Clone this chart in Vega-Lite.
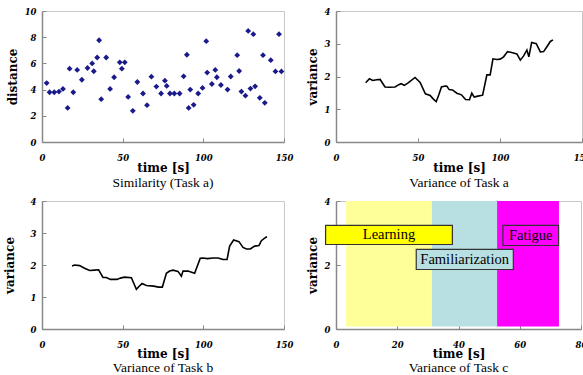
{
  "$schema": "https://vega.github.io/schema/vega-lite/v6.json",
  "background": "white",
  "padding": {"left": 2, "top": 6, "right": 0, "bottom": 0},
  "columns": 2,
  "bounds": "flush",
  "align": "each",
  "spacing": {"row": 59, "column": 52},
  "config": {
    "view": {"stroke": "#c8c8c8", "strokeWidth": 1},
    "axis": {
      "domainColor": "#888888", "domainWidth": 1.5, "tickColor": "#888888", "tickSize": -4,
      "grid": false, "labelFont": "DejaVu Serif", "labelFontWeight": "bold", "labelFontStyle": "italic",
      "labelFontSize": 8.5, "labelColor": "#000000", "titleFont": "DejaVu Serif", "titleFontWeight": "bold",
      "titleFontSize": 12, "titleColor": "#000000"
    },
    "axisX": {"labelPadding": 15, "titlePadding": 1, "labelFlush": false},
    "axisY": {"labelPadding": 10, "titlePadding": 5},
    "title": {"font": "Liberation Serif", "fontSize": 13.5, "fontWeight": "normal", "color": "#000000", "orient": "bottom", "offset": 2}
  },
  "concat": [
    {
      "width": 242, "height": 131,
      "title": "Similarity (Task a)",
      "data": {"values": [
        {"t":2.9,"d":4.5},{"t":4.7,"d":3.8},{"t":7.6,"d":3.8},{"t":10.5,"d":3.85},{"t":13,"d":4.05},
        {"t":15.9,"d":2.6},{"t":17.1,"d":5.6},{"t":19.4,"d":3.8},{"t":21.8,"d":5.5},{"t":24.7,"d":4.75},
        {"t":28.2,"d":5.65},{"t":31.1,"d":6.0},{"t":32.1,"d":5.4},{"t":34.2,"d":6.45},{"t":35.4,"d":7.77},
        {"t":36.7,"d":3.27},{"t":39.8,"d":6.45},{"t":42.2,"d":4.05},{"t":44.7,"d":4.94},{"t":48.2,"d":6.08},
        {"t":49.5,"d":5.6},{"t":51.3,"d":6.08},{"t":53.4,"d":3.44},{"t":56.3,"d":2.38},{"t":59.1,"d":4.58},
        {"t":62.6,"d":3.7},{"t":65.1,"d":2.81},{"t":67.8,"d":4.99},{"t":70.9,"d":4.23},{"t":73.8,"d":3.7},
        {"t":76.2,"d":4.68},{"t":77.3,"d":4.28},{"t":79.3,"d":3.7},{"t":82,"d":3.7},{"t":85.3,"d":3.7},
        {"t":87.8,"d":5.01},{"t":89.8,"d":6.66},{"t":90.9,"d":2.6},{"t":91.9,"d":4.0},{"t":94,"d":2.84},
        {"t":96.8,"d":3.7},{"t":99.5,"d":4.13},{"t":101.8,"d":7.7},{"t":102.4,"d":5.3},{"t":105.3,"d":4.43},
        {"t":107.4,"d":5.5},{"t":108.4,"d":4.94},{"t":110.9,"d":4.35},{"t":115,"d":4.0},{"t":117,"d":5.0},
        {"t":121,"d":6.63},{"t":122.2,"d":5.42},{"t":123.6,"d":3.85},{"t":126.1,"d":3.54},{"t":127.8,"d":8.48},
        {"t":129.2,"d":4.08},{"t":131,"d":8.23},{"t":132.1,"d":4.25},{"t":135,"d":3.37},{"t":137,"d":6.63},
        {"t":138.1,"d":2.99},{"t":141.8,"d":6.25},{"t":144.7,"d":5.39},{"t":146.9,"d":8.23},{"t":148.4,"d":5.39}
      ]},
      "mark": {"type": "point", "shape": "diamond", "filled": true, "size": 34, "color": "#1a1a8c", "opacity": 1},
      "encoding": {
        "x": {"field": "t", "type": "quantitative", "scale": {"domain": [0, 150], "nice": false}, "axis": {"title": "time [s]", "values": [0, 50, 100, 150]}},
        "y": {"field": "d", "type": "quantitative", "scale": {"domain": [0, 10], "nice": false}, "axis": {"title": "distance", "values": [0, 2, 4, 6, 8, 10], "titlePadding": 5}}
      }
    },
    {
      "width": 246, "height": 131,
      "title": "Variance of Task a",
      "data": {"values": [
        {"t":18.1,"v":1.81},{"t":20.4,"v":1.93},{"t":22.4,"v":1.88},{"t":24.8,"v":1.9},{"t":26.9,"v":1.91},
        {"t":29.9,"v":1.68},{"t":32.6,"v":1.67},{"t":36,"v":1.68},{"t":38.3,"v":1.75},{"t":39.7,"v":1.78},
        {"t":41.7,"v":1.73},{"t":44.2,"v":1.81},{"t":48.2,"v":1.97},{"t":51.3,"v":1.82},{"t":54.5,"v":1.47},
        {"t":57.4,"v":1.42},{"t":59.4,"v":1.31},{"t":61.1,"v":1.23},{"t":62.7,"v":1.44},{"t":64.3,"v":1.68},
        {"t":66.6,"v":1.71},{"t":67.6,"v":1.7},{"t":69,"v":1.6},{"t":71,"v":1.59},{"t":73.7,"v":1.49},
        {"t":76.5,"v":1.44},{"t":79,"v":1.3},{"t":81.4,"v":1.29},{"t":82.8,"v":1.49},{"t":84.3,"v":1.37},
        {"t":86.5,"v":1.4},{"t":89.4,"v":1.43},{"t":92,"v":2.05},{"t":94,"v":2.05},{"t":95.7,"v":2.54},
        {"t":98.1,"v":2.52},{"t":100.1,"v":2.53},{"t":102.2,"v":2.6},{"t":104.6,"v":2.76},{"t":107.1,"v":2.73},
        {"t":110.3,"v":2.69},{"t":112.4,"v":2.5},{"t":114.4,"v":2.63},{"t":116.4,"v":2.81},{"t":117.6,"v":2.6},
        {"t":119.3,"v":3.04},{"t":122.1,"v":3.0},{"t":124.6,"v":2.75},{"t":126.6,"v":2.76},{"t":128.6,"v":2.91},
        {"t":130.7,"v":3.07},{"t":132.3,"v":3.12}
      ]},
      "mark": {"type": "line", "color": "#000000", "strokeWidth": 1.6},
      "encoding": {
        "x": {"field": "t", "type": "quantitative", "scale": {"domain": [0, 150], "nice": false}, "axis": {"title": "time [s]", "values": [0, 50, 100, 150]}},
        "y": {"field": "v", "type": "quantitative", "scale": {"domain": [0, 4], "nice": false}, "axis": {"title": "variance", "values": [0, 1, 2, 3, 4], "titlePadding": 5}}
      }
    },
    {
      "width": 242, "height": 128,
      "title": {"text": "Variance of Task b", "offset": 1},
      "data": {"values": [
        {"t":18.6,"v":1.97},{"t":20.2,"v":2.0},{"t":23.3,"v":1.98},{"t":26.4,"v":1.9},{"t":29.5,"v":1.83},
        {"t":32.6,"v":1.84},{"t":35.1,"v":1.85},{"t":37.8,"v":1.61},{"t":39.9,"v":1.61},{"t":42.4,"v":1.55},
        {"t":46.5,"v":1.55},{"t":48.6,"v":1.59},{"t":51,"v":1.62},{"t":55.4,"v":1.6},{"t":58.5,"v":1.24},
        {"t":60.1,"v":1.33},{"t":62,"v":1.42},{"t":64.7,"v":1.36},{"t":69.2,"v":1.34},{"t":72.3,"v":1.31},
        {"t":74.6,"v":1.31},{"t":77.1,"v":1.74},{"t":79.1,"v":1.81},{"t":81.2,"v":1.84},{"t":84.3,"v":1.8},
        {"t":86.4,"v":1.65},{"t":87.4,"v":1.81},{"t":90.5,"v":1.81},{"t":94.6,"v":1.74},{"t":98.1,"v":2.21},
        {"t":99.8,"v":2.22},{"t":102.5,"v":2.2},{"t":106,"v":2.22},{"t":109.1,"v":2.22},{"t":112.2,"v":2.17},
        {"t":114.7,"v":2.17},{"t":116.3,"v":2.59},{"t":118.8,"v":2.78},{"t":122.1,"v":2.73},{"t":124.6,"v":2.55},
        {"t":126.7,"v":2.5},{"t":129.1,"v":2.5},{"t":131.8,"v":2.59},{"t":134.5,"v":2.61},{"t":136,"v":2.76},
        {"t":138.6,"v":2.86},{"t":139.5,"v":2.88}
      ]},
      "mark": {"type": "line", "color": "#000000", "strokeWidth": 1.6},
      "encoding": {
        "x": {"field": "t", "type": "quantitative", "scale": {"domain": [0, 150], "nice": false}, "axis": {"title": "time [s]", "values": [0, 50, 100, 150], "titlePadding": 0}},
        "y": {"field": "v", "type": "quantitative", "scale": {"domain": [0, 4], "nice": false}, "axis": {"title": "variance", "values": [0, 1, 2, 3, 4], "titlePadding": 14}}
      }
    },
    {
      "width": 245, "height": 128,
      "title": {"text": "Variance of Task c", "offset": 1},
      "layer": [
        {
          "data": {"values": [
            {"phase": "Learning", "start": 3.3, "end": 31.3, "lo": 0.08, "hi": 4},
            {"phase": "Familiarization", "start": 31.3, "end": 52.6, "lo": 0.08, "hi": 4},
            {"phase": "Fatigue", "start": 52.6, "end": 72.8, "lo": 0.08, "hi": 4}
          ]},
          "mark": {"type": "rect"},
          "encoding": {
            "x": {"field": "start", "type": "quantitative", "scale": {"domain": [0, 80], "nice": false}, "axis": {"title": "time [s]", "values": [0, 20, 40, 60, 80], "titlePadding": 0}},
            "x2": {"field": "end"},
            "y": {"field": "lo", "type": "quantitative", "scale": {"domain": [0, 4], "nice": false}, "axis": {"title": "variance", "values": [0, 1, 2, 3, 4], "titlePadding": 5}},
            "y2": {"field": "hi"},
            "color": {"field": "phase", "type": "nominal", "legend": null, "scale": {"domain": ["Learning", "Familiarization", "Fatigue"], "range": ["#ffff99", "#b8e0e3", "#ff00ff"]}}
          }
        },
        {
          "data": {"values": [
            {"label": "Learning", "x0": -3.4, "x1": 38, "y0": 2.64, "y1": 3.24, "xc": 17.3, "yc": 2.94},
            {"label": "Familiarization", "x0": 26.2, "x1": 57.9, "y0": 1.86, "y1": 2.49, "xc": 42.0, "yc": 2.17},
            {"label": "Fatigue", "x0": 54.5, "x1": 72.7, "y0": 2.61, "y1": 3.24, "xc": 63.6, "yc": 2.92}
          ]},
          "layer": [
            {
              "mark": {"type": "rect", "stroke": "#333333", "strokeWidth": 1.2, "clip": false},
              "encoding": {
                "x": {"field": "x0", "type": "quantitative"},
                "x2": {"field": "x1"},
                "y": {"field": "y0", "type": "quantitative"},
                "y2": {"field": "y1"},
                "fill": {"field": "label", "type": "nominal", "legend": null, "scale": {"domain": ["Learning", "Familiarization", "Fatigue"], "range": ["#ffff00", "#b8e0e3", "#ff00ff"]}}
              }
            },
            {
              "mark": {"type": "text", "font": "Liberation Serif", "fontSize": 14.5, "color": "#000000", "align": "center", "baseline": "middle"},
              "encoding": {
                "x": {"field": "xc", "type": "quantitative"},
                "y": {"field": "yc", "type": "quantitative"},
                "text": {"field": "label"}
              }
            }
          ]
        }
      ],
      "resolve": {"scale": {"color": "independent", "fill": "independent"}}
    }
  ]
}
